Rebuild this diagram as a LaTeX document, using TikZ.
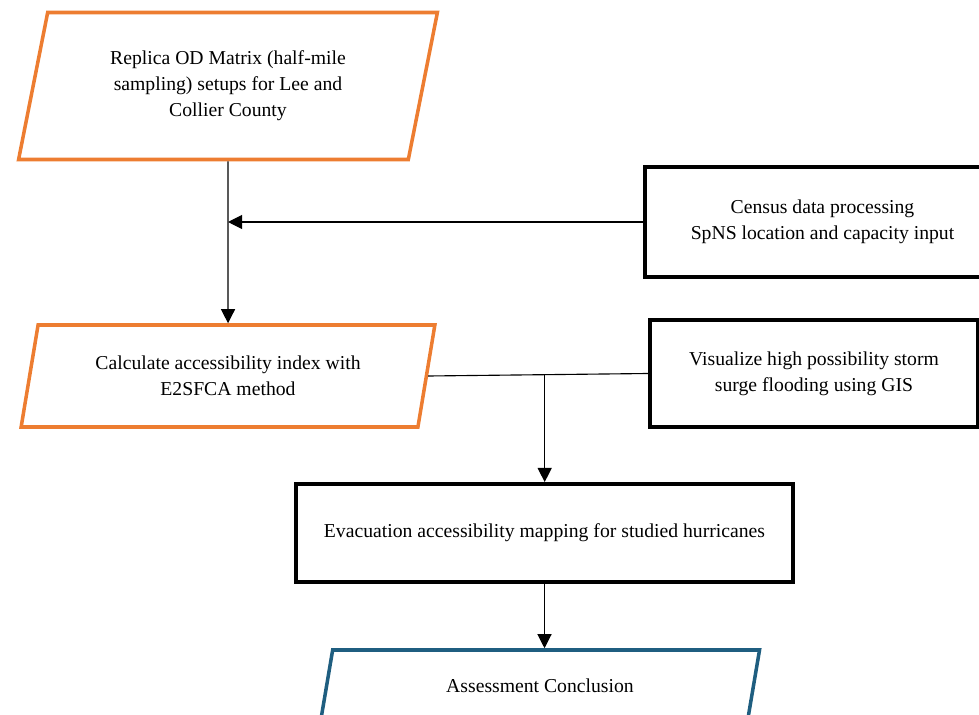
\documentclass[tikz,border=0pt]{standalone}
\usepackage{fontspec}
\setmainfont{Liberation Serif}
\usetikzlibrary{shapes.geometric,arrows.meta}
\definecolor{naranja}{RGB}{237,125,49}
\definecolor{azul}{RGB}{31,94,128}
\begin{document}
\begin{tikzpicture}[font=\fontsize{14}{18.4}\selectfont, >={Triangle[length=10pt,width=10pt]},
		caja/.style={draw, line width=2.8pt, align=center},
		datos/.style={draw, line width=2.5pt, align=center, trapezium, trapezium left angle=76,
			trapezium right angle=104, trapezium stretches=true},
		flecha/.style={->, line width=0.8pt}]
	\useasboundingbox (0,0) rectangle (24.475,-17.875);
	\node[datos, naranja, text=black, minimum width=10.5cm, minimum height=3.675cm] (rep) at (5.7,-2.15)
		{Replica OD Matrix (half-mile\\sampling) setups for Lee and\\Collier County};
	\node[caja, minimum width=8.875cm, minimum height=2.75cm] (cen) at (20.5625,-5.55)
		{Census data processing\\SpNS location and capacity input};
	\node[datos, naranja, text=black, minimum width=10.35cm, minimum height=2.55cm] (calc) at (5.7,-9.4)
		{Calculate accessibility index with\\E2SFCA method};
	\node[caja, minimum width=8.2cm, minimum height=2.675cm] (vis) at (20.35,-9.3375)
		{Visualize high possibility storm\\surge flooding using GIS};
	\node[caja, minimum width=12.425cm, minimum height=2.45cm] (evac) at (13.6125,-13.325)
		{Evacuation accessibility mapping for studied hurricanes};
	\node[datos, azul, text=black, minimum width=11cm, minimum height=1.8cm] (conc) at (13.5,-17.15)
		{Assessment Conclusion};

	\draw[flecha] (rep.south) -- (calc.north);
	\draw[flecha] (cen.west) -- (cen.west -| rep.south);
	\draw[line width=0.8pt] (calc.east) -- (vis.west) coordinate[pos=0.53] (j);
	\draw[flecha] (j) -- (j |- evac.north);
	\draw[flecha] (evac.south) -- (evac.south |- conc.north);
\end{tikzpicture}
\end{document}
